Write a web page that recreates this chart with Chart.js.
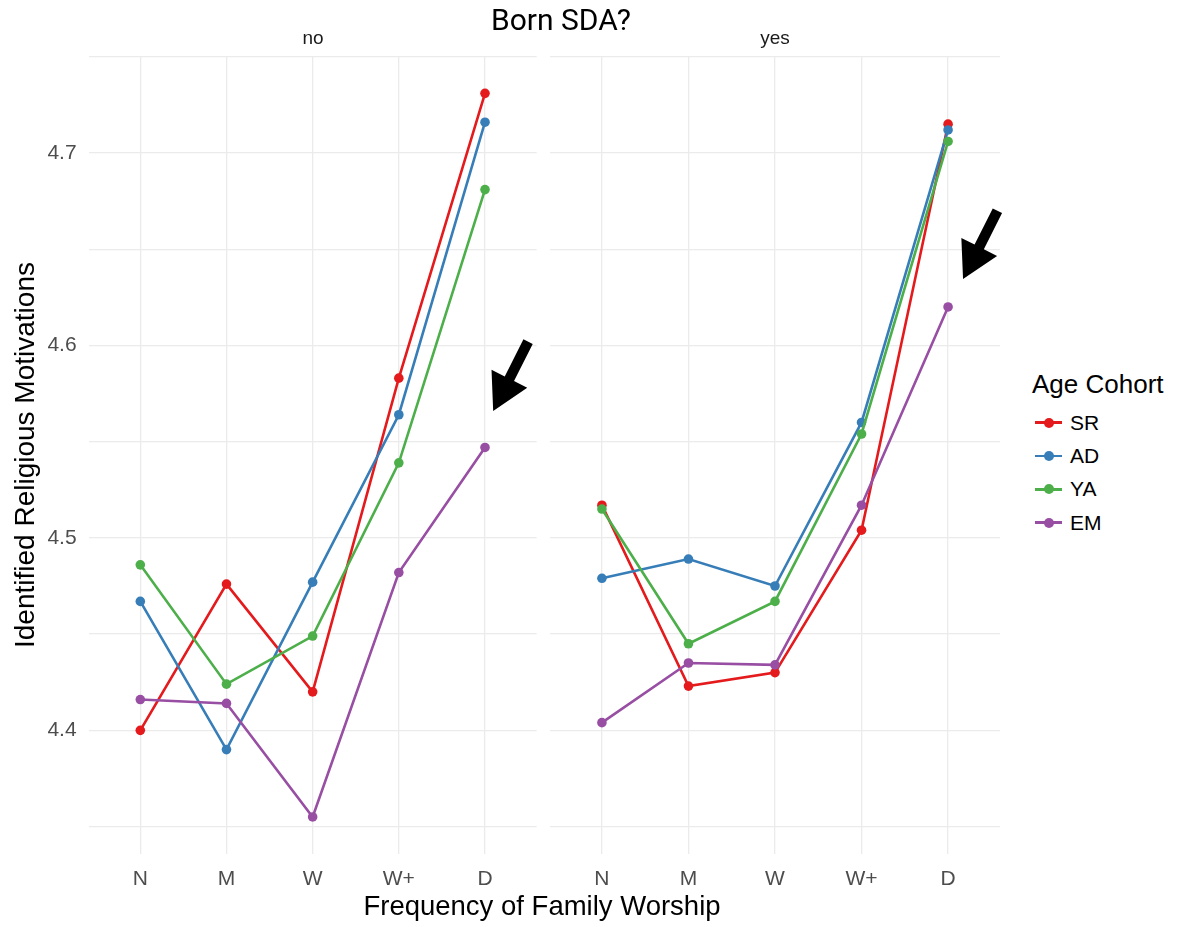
<!DOCTYPE html>
<html>
<head>
<meta charset="utf-8">
<script src="https://cdn.jsdelivr.net/npm/chart.js@4/dist/chart.umd.min.js"></script>
<style>
  html, body { margin:0; padding:0; background:#fff; }
  #wrap { position:relative; width:1178px; height:927px; overflow:hidden; font-family:"Liberation Sans", Arial, sans-serif; }
  canvas { position:absolute; top:0; }
  .txt { position:absolute; white-space:nowrap; }
</style>
</head>
<body>
<div id="wrap">
  <canvas id="cNo" width="545" height="927" style="left:0px"></canvas>
  <canvas id="cYes" width="470" height="927" style="left:540px"></canvas>
  <div class="txt" id="title" style="left:461px; width:200px; top:5px; text-align:center; font-family:'Liberation Sans Narrow', Roboto, sans-serif; font-size:30px; line-height:30px; color:#000;">Born SDA?</div>
  <div class="txt" id="stripNo" style="left:263px; width:100px; top:28px; text-align:center; font-size:19px; line-height:19px; color:#1a1a1a;">no</div>
  <div class="txt" id="stripYes" style="left:725px; width:100px; top:28px; text-align:center; font-size:19px; line-height:19px; color:#1a1a1a;">yes</div>
  <div class="txt" id="xtitle" style="left:292px; width:500px; top:892px; text-align:center; font-size:27.5px; line-height:27px; color:#000;">Frequency of Family Worship</div>
  <div class="txt" id="ytitle" style="left:-225px; width:500px; top:441px; text-align:center; font-size:28px; line-height:28px; color:#000; transform:rotate(-90deg);">Identified Religious Motivations</div>
  <div id="legend"></div>
</div>
<script>
// ---- data ----
const categories = ['N', 'M', 'W', 'W+', 'D'];
const cohorts = ['SR', 'AD', 'YA', 'EM'];
const cohortColors = ['#E41A1C', '#377EB8', '#4DAF4A', '#984EA3'];

// Born SDA? = no
const noSR = [4.400, 4.476, 4.420, 4.583, 4.731];
const noAD = [4.467, 4.390, 4.477, 4.564, 4.716];
const noYA = [4.486, 4.424, 4.449, 4.539, 4.681];
const noEM = [4.416, 4.414, 4.355, 4.482, 4.547];

// Born SDA? = yes
const yesSR = [4.517, 4.423, 4.430, 4.504, 4.715];
const yesAD = [4.479, 4.489, 4.475, 4.560, 4.712];
const yesYA = [4.515, 4.445, 4.467, 4.554, 4.706];
const yesEM = [4.404, 4.435, 4.434, 4.517, 4.620];

const yTickValues = [4.35, 4.40, 4.45, 4.50, 4.55, 4.60, 4.65, 4.70, 4.75];
const yMin = 4.336;
const yMax = 4.75;

// arrow annotations in data units: [x, y]
const arrowNoTail = [4.50, 4.602];
const arrowNoTip = [4.095, 4.566];
const arrowYesTail = [4.57, 4.670];
const arrowYesTip = [4.173, 4.6345];

// ---- helpers ----
const tickFont = { family: "'Liberation Sans', Arial, sans-serif", size: 21 };
const gridColor = '#ebebeb';

function makeDatasets(series) {
  return series.map((vals, i) => ({
    label: cohorts[i],
    data: vals.map((v, j) => ({ x: j, y: v })),
    borderColor: cohortColors[i],
    backgroundColor: cohortColors[i],
    borderWidth: 2.6,
    pointRadius: 4.8,
    pointHoverRadius: 4.8,
    pointBorderWidth: 0,
    tension: 0,
    order: series.length - 1 - i
  }));
}

const arrowPlugin = {
  id: 'arrowAnno',
  afterDatasetsDraw(chart, args, opts) {
    const xs = chart.scales.x, ys = chart.scales.y;
    const S = [xs.getPixelForValue(opts.tail[0]), ys.getPixelForValue(opts.tail[1])];
    const T = [xs.getPixelForValue(opts.tip[0]), ys.getPixelForValue(opts.tip[1])];
    const dx = T[0] - S[0], dy = T[1] - S[1];
    const len = Math.hypot(dx, dy);
    const d = [dx / len, dy / len];
    const n = [-d[1], d[0]];
    const headLen = 36, headHalf = 20, shaftHalf = 5.2;
    const B = [T[0] - d[0] * headLen, T[1] - d[1] * headLen];
    const pts = [
      [S[0] + n[0] * shaftHalf, S[1] + n[1] * shaftHalf],
      [B[0] + n[0] * shaftHalf, B[1] + n[1] * shaftHalf],
      [B[0] + n[0] * headHalf, B[1] + n[1] * headHalf],
      T,
      [B[0] - n[0] * headHalf, B[1] - n[1] * headHalf],
      [B[0] - n[0] * shaftHalf, B[1] - n[1] * shaftHalf],
      [S[0] - n[0] * shaftHalf, S[1] - n[1] * shaftHalf]
    ];
    const ctx = chart.ctx;
    ctx.save();
    ctx.fillStyle = '#000';
    ctx.beginPath();
    ctx.moveTo(pts[0][0], pts[0][1]);
    for (let k = 1; k < pts.length; k++) ctx.lineTo(pts[k][0], pts[k][1]);
    ctx.closePath();
    ctx.fill();
    ctx.restore();
  }
};

function makeChart(id, series, showY, yWidth, padRight, tail, tip) {
  return new Chart(document.getElementById(id), {
    type: 'line',
    data: { datasets: makeDatasets(series) },
    plugins: [arrowPlugin],
    options: {
      responsive: false,
      animation: false,
      events: [],
      layout: { padding: { left: 0, right: padRight, top: 56.8, bottom: 23.5 } },
      plugins: {
        legend: { display: false },
        tooltip: { enabled: false },
        arrowAnno: { tail: tail, tip: tip }
      },
      scales: {
        x: {
          type: 'linear',
          min: -0.6,
          max: 4.6,
          afterBuildTicks: s => { s.ticks = categories.map((c, i) => ({ value: i })); },
          afterFit: s => { s.height = 50; },
          ticks: {
            callback: v => categories[v],
            font: tickFont,
            color: '#4d4d4d',
            padding: 13,
            maxRotation: 0,
            autoSkip: false
          },
          grid: { color: gridColor, lineWidth: 1.3, drawTicks: false },
          border: { display: false }
        },
        y: {
          type: 'linear',
          min: yMin,
          max: yMax,
          afterBuildTicks: s => { s.ticks = yTickValues.map(v => ({ value: v })); },
          afterFit: s => { s.width = yWidth; },
          ticks: {
            display: showY,
            callback: v => (Math.abs(v * 10 - Math.round(v * 10)) < 1e-6 ? v.toFixed(1) : ''),
            font: tickFont,
            color: '#4d4d4d',
            padding: 12,
            autoSkip: false
          },
          grid: { color: gridColor, lineWidth: 1.3, drawTicks: false },
          border: { display: false }
        }
      }
    }
  });
}

makeChart('cNo', [noSR, noAD, noYA, noEM], true, 88.6, 8.3, arrowNoTail, arrowNoTip);
makeChart('cYes', [yesSR, yesAD, yesYA, yesEM], false, 10, 10, arrowYesTail, arrowYesTip);

// ---- legend ----
(function buildLegend() {
  const lg = document.getElementById('legend');
  const title = document.createElement('div');
  title.className = 'txt';
  title.textContent = 'Age Cohort';
  title.style.cssText = 'left:1032px; top:371px; font-size:26px; line-height:26px; color:#000;';
  lg.appendChild(title);
  const centers = [422.7, 456, 489.3, 522.7];
  cohorts.forEach((c, i) => {
    const cy = centers[i];
    const line = document.createElement('div');
    line.style.cssText = `position:absolute; left:1035px; top:${cy - 1.3}px; width:27px; height:2.6px; background:${cohortColors[i]};`;
    const dot = document.createElement('div');
    dot.style.cssText = `position:absolute; left:${1048.5 - 5}px; top:${cy - 5}px; width:10px; height:10px; border-radius:50%; background:${cohortColors[i]};`;
    const lab = document.createElement('div');
    lab.className = 'txt';
    lab.textContent = c;
    lab.style.cssText = `left:1070px; top:${cy - 11}px; font-size:21px; line-height:22px; color:#000;`;
    lg.appendChild(line); lg.appendChild(dot); lg.appendChild(lab);
  });
})();
</script>
</body>
</html>
